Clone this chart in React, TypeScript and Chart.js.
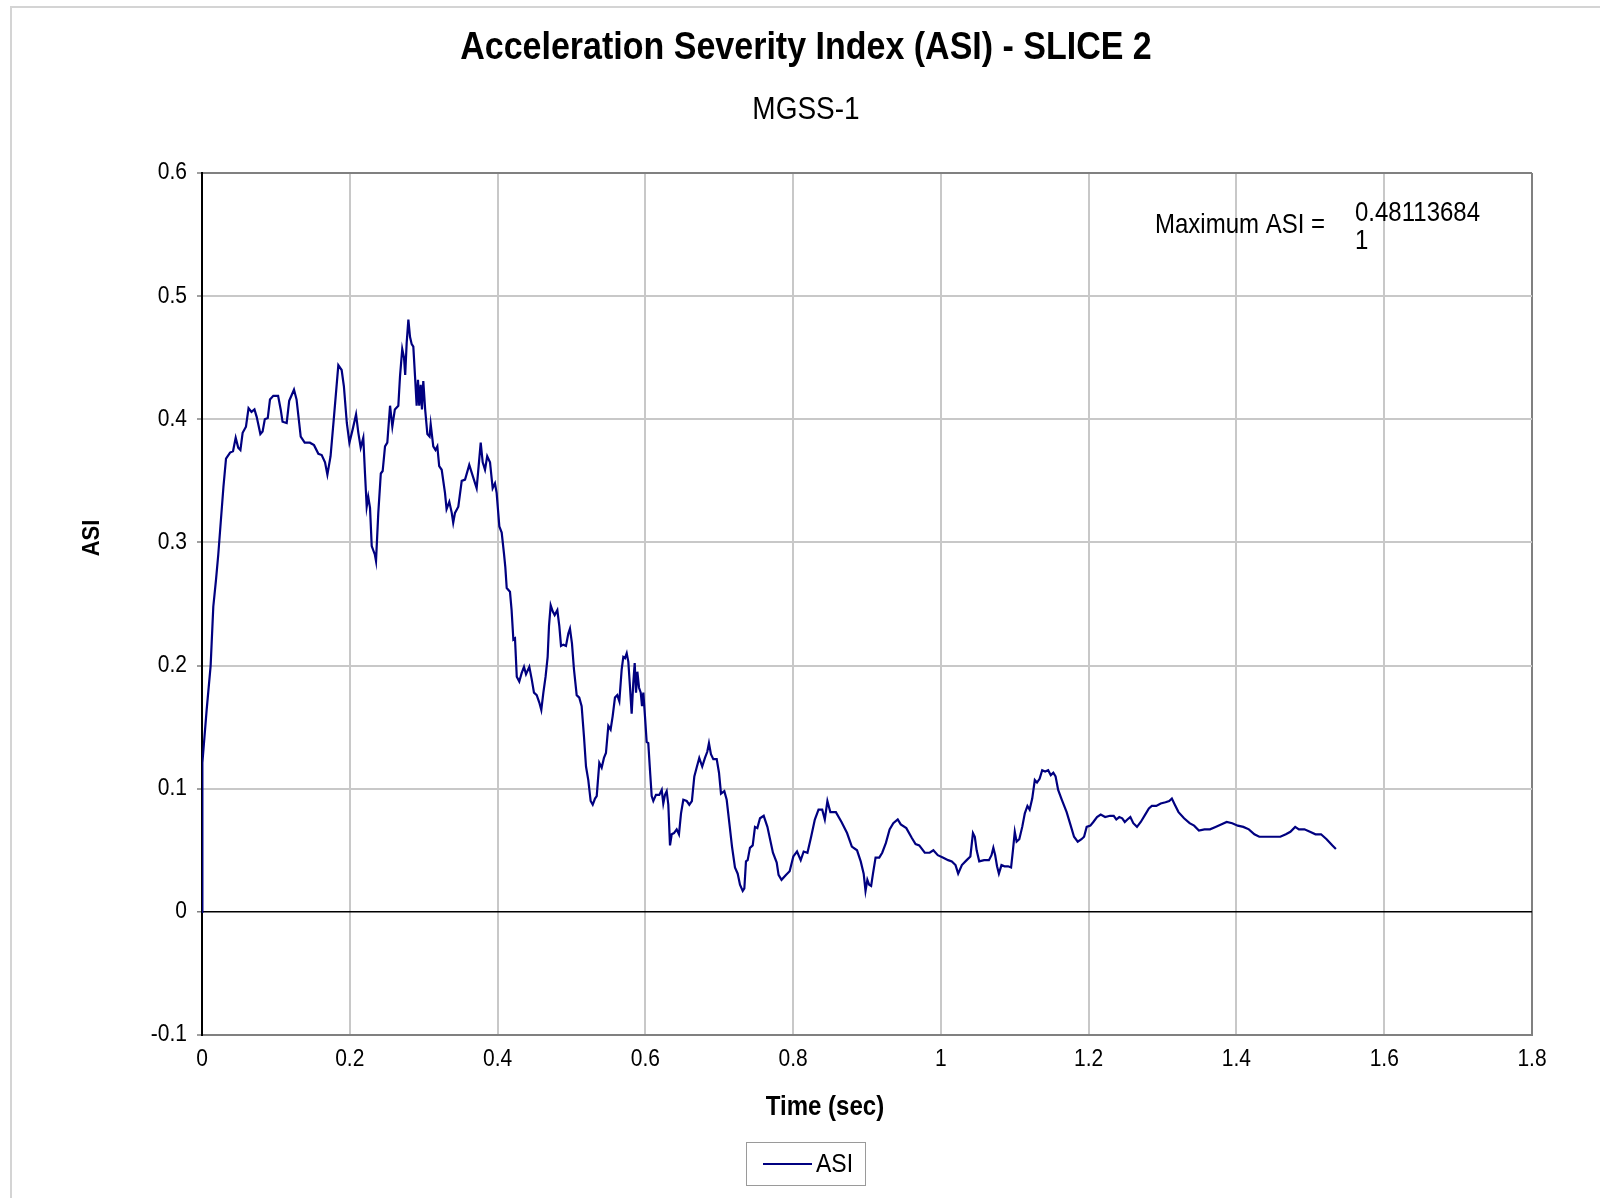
import React, { useEffect, useRef } from "react";
import { Chart, registerables } from "chart.js";

Chart.register(...registerables);

const TITLE = "Acceleration Severity Index (ASI) - SLICE 2";
const SUBTITLE = "MGSS-1";
const X_TITLE = "Time (sec)";
const Y_TITLE = "ASI";
const SERIES_LABEL = "ASI";
const MAX_LABEL = "Maximum ASI =";
const MAX_VALUE_LINES = ["0.48113684", "1"];

const X_MIN = 0;
const X_MAX = 1.8;
const X_STEP = 0.2;
const Y_MIN = -0.1;
const Y_MAX = 0.6;
const Y_STEP = 0.1;

const TIME = [
  0, 0.0005, 0.0063, 0.0117, 0.0153, 0.019, 0.022, 0.029, 0.0325, 0.038, 0.042, 0.0456, 0.049, 0.052, 0.055, 0.0595,
  0.063, 0.067, 0.071, 0.074, 0.079, 0.082, 0.085, 0.089, 0.092, 0.0965, 0.103, 0.1065, 0.109, 0.1146, 0.118, 0.1245,
  0.128, 0.1336, 0.139, 0.146, 0.1516, 0.1575, 0.162, 0.1665, 0.1697, 0.174, 0.1786, 0.1845, 0.189, 0.192, 0.196, 0.1995,
  0.204, 0.2085, 0.2116, 0.2148, 0.2183, 0.2206, 0.2229, 0.225, 0.2274, 0.2297, 0.234, 0.2355, 0.2386, 0.242, 0.2445, 0.2477,
  0.2508, 0.2545, 0.2576, 0.261, 0.2657, 0.268, 0.271, 0.2734, 0.275, 0.277, 0.2793, 0.2815, 0.2838, 0.286, 0.2883, 0.2905,
  0.2923, 0.294, 0.296, 0.2977, 0.2995, 0.302, 0.305, 0.308, 0.3095, 0.313, 0.316, 0.3185, 0.321, 0.3244, 0.3289, 0.331,
  0.3347, 0.338, 0.34, 0.3424, 0.3469, 0.3515, 0.356, 0.3617, 0.3664, 0.3717, 0.3744, 0.3772, 0.3799, 0.383, 0.386, 0.3898,
  0.3934, 0.3965, 0.3988, 0.4024, 0.4056, 0.4087, 0.4105, 0.4124, 0.4168, 0.419, 0.4214, 0.4236, 0.426, 0.4294, 0.4327, 0.4358,
  0.4385, 0.443, 0.4462, 0.4493, 0.453, 0.4565, 0.4592, 0.462, 0.465, 0.4678, 0.4696, 0.4719, 0.4746, 0.4773, 0.4809, 0.4836,
  0.4859, 0.489, 0.4926, 0.4958, 0.498, 0.5007, 0.5034, 0.5071, 0.5106, 0.5138, 0.517, 0.5197, 0.5228, 0.526, 0.5288, 0.5319,
  0.5342, 0.5377, 0.5409, 0.544, 0.5467, 0.5499, 0.553, 0.5558, 0.5589, 0.562, 0.5648, 0.568, 0.5702, 0.5725, 0.5748, 0.577,
  0.5792, 0.5815, 0.5837, 0.5856, 0.5874, 0.5892, 0.5915, 0.5938, 0.5955, 0.5973, 0.5995, 0.6018, 0.604, 0.6063, 0.6086, 0.6108,
  0.6144, 0.6189, 0.6222, 0.6243, 0.6266, 0.6289, 0.6311, 0.6334, 0.6357, 0.6388, 0.6424, 0.6455, 0.6483, 0.6514, 0.656, 0.6595,
  0.663, 0.6663, 0.6694, 0.673, 0.677, 0.6807, 0.6838, 0.6861, 0.6888, 0.692, 0.6966, 0.6997, 0.7024, 0.7069, 0.7101, 0.7137,
  0.7173, 0.7213, 0.725, 0.7281, 0.7318, 0.734, 0.7362, 0.7385, 0.7416, 0.7453, 0.7484, 0.7516, 0.7552, 0.7602, 0.7652, 0.7727,
  0.7778, 0.7803, 0.7843, 0.7903, 0.7953, 0.8003, 0.8053, 0.8103, 0.8143, 0.8194, 0.8244, 0.8294, 0.8344, 0.8394, 0.8429, 0.8464,
  0.8504, 0.8579, 0.8655, 0.873, 0.8795, 0.8865, 0.8915, 0.8955, 0.898, 0.9005, 0.903, 0.9056, 0.9081, 0.9116, 0.9166, 0.9206,
  0.9256, 0.9306, 0.9356, 0.9416, 0.9457, 0.9532, 0.9607, 0.9657, 0.9707, 0.9782, 0.9848, 0.9898, 0.9958, 1.0033, 1.0098, 1.0148,
  1.0198, 1.0234, 1.0284, 1.0349, 1.0399, 1.0434, 1.0459, 1.0484, 1.0519, 1.0585, 1.065, 1.0685, 1.071, 1.0735, 1.076, 1.0785,
  1.082, 1.086, 1.091, 1.095, 1.0975, 1.1, 1.1025, 1.1061, 1.1101, 1.1136, 1.1171, 1.1201, 1.1236, 1.1271, 1.1301, 1.1336,
  1.1371, 1.1411, 1.1452, 1.1487, 1.1522, 1.1552, 1.1587, 1.1637, 1.1702, 1.1752, 1.1802, 1.1852, 1.1903, 1.1938, 1.1973, 1.2023,
  1.2063, 1.2113, 1.2163, 1.2223, 1.2289, 1.2339, 1.2374, 1.2414, 1.2454, 1.2489, 1.2524, 1.2564, 1.2604, 1.2654, 1.2705, 1.2765,
  1.2815, 1.2855, 1.2915, 1.2975, 1.304, 1.309, 1.3126, 1.3166, 1.3216, 1.3291, 1.3366, 1.3427, 1.3492, 1.3567, 1.3642, 1.3717,
  1.3792, 1.3868, 1.3943, 1.4018, 1.4093, 1.4168, 1.4243, 1.4309, 1.4394, 1.4494, 1.4594, 1.4669, 1.473, 1.4795, 1.4845, 1.492,
  1.4995, 1.507, 1.5145, 1.522, 1.5296, 1.5346,
];

const ASI = [
  0, 0.121, 0.164, 0.2, 0.248, 0.27, 0.29, 0.345, 0.368, 0.373, 0.374, 0.385, 0.377, 0.375, 0.389, 0.394,
  0.409, 0.406, 0.408, 0.402, 0.388, 0.39, 0.4, 0.401, 0.416, 0.419, 0.419, 0.408, 0.398, 0.397, 0.415, 0.424,
  0.416, 0.386, 0.381, 0.381, 0.379, 0.372, 0.371, 0.365, 0.355, 0.37, 0.402, 0.444, 0.44, 0.427, 0.397, 0.381,
  0.392, 0.404, 0.389, 0.377, 0.385, 0.356, 0.329, 0.337, 0.328, 0.297, 0.29, 0.285, 0.324, 0.356, 0.358, 0.378,
  0.381, 0.411, 0.394, 0.408, 0.411, 0.435, 0.457, 0.45, 0.436, 0.462, 0.481, 0.467, 0.461, 0.459, 0.435, 0.411,
  0.432, 0.411, 0.428, 0.408, 0.431, 0.408, 0.388, 0.386, 0.396, 0.378, 0.375, 0.378, 0.362, 0.359, 0.34, 0.327,
  0.333, 0.324, 0.316, 0.324, 0.329, 0.35, 0.351, 0.363, 0.354, 0.344, 0.362, 0.381, 0.365, 0.359, 0.37, 0.365,
  0.344, 0.348, 0.34, 0.313, 0.308, 0.291, 0.28, 0.263, 0.26, 0.245, 0.221, 0.222, 0.191, 0.187, 0.194, 0.199,
  0.193, 0.199, 0.189, 0.178, 0.176, 0.17, 0.164, 0.178, 0.191, 0.207, 0.232, 0.249, 0.244, 0.241, 0.245, 0.232,
  0.216, 0.217, 0.216, 0.226, 0.23, 0.218, 0.197, 0.176, 0.174, 0.167, 0.142, 0.118, 0.107, 0.09, 0.087, 0.092,
  0.094, 0.121, 0.117, 0.125, 0.129, 0.151, 0.148, 0.159, 0.174, 0.176, 0.171, 0.197, 0.207, 0.206, 0.21, 0.203,
  0.183, 0.161, 0.186, 0.202, 0.178, 0.195, 0.182, 0.178, 0.167, 0.178, 0.159, 0.138, 0.137, 0.115, 0.094, 0.09,
  0.095, 0.095, 0.099, 0.088, 0.095, 0.098, 0.087, 0.054, 0.063, 0.064, 0.067, 0.063, 0.08, 0.091, 0.09, 0.087,
  0.09, 0.11, 0.117, 0.125, 0.118, 0.125, 0.13, 0.137, 0.128, 0.124, 0.124, 0.113, 0.096, 0.098, 0.091, 0.072,
  0.053, 0.036, 0.031, 0.022, 0.017, 0.019, 0.041, 0.042, 0.052, 0.054, 0.069, 0.068, 0.076, 0.078, 0.069, 0.048,
  0.04, 0.03, 0.026, 0.03, 0.033, 0.045, 0.049, 0.042, 0.049, 0.048, 0.061, 0.075, 0.083, 0.083, 0.075, 0.09,
  0.081, 0.081, 0.073, 0.064, 0.053, 0.05, 0.041, 0.031, 0.017, 0.026, 0.022, 0.021, 0.031, 0.044, 0.044, 0.048,
  0.056, 0.067, 0.072, 0.075, 0.071, 0.068, 0.06, 0.055, 0.054, 0.048, 0.048, 0.05, 0.046, 0.044, 0.042, 0.041,
  0.038, 0.031, 0.038, 0.042, 0.045, 0.064, 0.061, 0.05, 0.041, 0.042, 0.042, 0.046, 0.052, 0.046, 0.037, 0.031,
  0.038, 0.037, 0.037, 0.036, 0.05, 0.065, 0.057, 0.059, 0.069, 0.08, 0.086, 0.083, 0.092, 0.107, 0.105, 0.108,
  0.115, 0.114, 0.115, 0.111, 0.113, 0.11, 0.099, 0.091, 0.081, 0.071, 0.061, 0.057, 0.059, 0.061, 0.069, 0.07,
  0.073, 0.077, 0.079, 0.077, 0.078, 0.078, 0.075, 0.077, 0.076, 0.073, 0.075, 0.077, 0.072, 0.069, 0.073, 0.079,
  0.084, 0.086, 0.086, 0.088, 0.089, 0.09, 0.092, 0.087, 0.081, 0.076, 0.072, 0.07, 0.066, 0.067, 0.067, 0.069,
  0.071, 0.073, 0.072, 0.07, 0.069, 0.067, 0.063, 0.061, 0.061, 0.061, 0.061, 0.063, 0.065, 0.069, 0.067, 0.067,
  0.065, 0.063, 0.063, 0.059, 0.054, 0.051,
];

const FONT = "'Liberation Sans', Arial, Helvetica, sans-serif";
const LINE_COLOR = "#000080";
const GRID_COLOR = "#c8c8c8";
const FRAME_COLOR = "#808080";
const TEXT_STRETCH = 1.12;

const near = (a: number, b: number) => Math.abs(a - b) < 1e-6;
const fmt = (v: number | string) => String(Math.round(Number(v) * 10) / 10);

const decorPlugin = {
  id: "decor",
  afterDraw(chart: any) {
    const ctx: CanvasRenderingContext2D = chart.ctx;
    ctx.save();
    // outer frame
    ctx.strokeStyle = "#d4d4d4";
    ctx.lineWidth = 2;
    ctx.beginPath();
    ctx.moveTo(11, 1198);
    ctx.lineTo(11, 7);
    ctx.lineTo(1600, 7);
    ctx.stroke();

    ctx.fillStyle = "#000";
    ctx.textBaseline = "middle";

    // axis titles
    ctx.font = `bold 24px ${FONT}`;
    ctx.textAlign = "center";
    ctx.fillText(X_TITLE, 825, 1108);
    ctx.save();
    ctx.translate(92, 538);
    ctx.rotate(-Math.PI / 2);
    ctx.font = `bold 22px ${FONT}`;
    ctx.fillText(Y_TITLE, 0, 0);
    ctx.restore();

    // max annotation
    ctx.font = `24px ${FONT}`;
    ctx.textAlign = "left";
    ctx.fillText(MAX_LABEL, 1155, 226);
    ctx.fillText(MAX_VALUE_LINES[0], 1355, 214);
    ctx.fillText(MAX_VALUE_LINES[1], 1355, 242);

    // legend
    ctx.strokeStyle = "#9a9a9a";
    ctx.lineWidth = 1;
    ctx.strokeRect(746.5, 1142.5, 119, 43);
    ctx.strokeStyle = LINE_COLOR;
    ctx.lineWidth = 2;
    ctx.beginPath();
    ctx.moveTo(763, 1164);
    ctx.lineTo(812, 1164);
    ctx.stroke();
    ctx.font = `23px ${FONT}`;
    ctx.fillText(SERIES_LABEL, 816, 1165);
    ctx.restore();
  },
};

export default function App() {
  const ref = useRef<HTMLCanvasElement | null>(null);

  useEffect(() => {
    const canvas = ref.current;
    if (!canvas) return;
    const c2d = canvas.getContext("2d") as any;
    // Slightly taller glyphs, like the reference's text rendering
    const origFill = c2d.fillText.bind(c2d);
    c2d.fillText = (text: string, x: number, y: number, maxWidth?: number) => {
      c2d.save();
      c2d.translate(x, y);
      c2d.scale(1, TEXT_STRETCH);
      if (maxWidth === undefined) origFill(text, 0, 0);
      else origFill(text, 0, 0, maxWidth);
      c2d.restore();
    };

    Chart.defaults.font.family = FONT;
    Chart.defaults.color = "#000";
    const points = TIME.map((t, i) => ({ x: t, y: ASI[i] }));
    const chart = new Chart(canvas, {
      type: "line",
      data: {
        datasets: [
          {
            label: SERIES_LABEL,
            data: points,
            borderColor: LINE_COLOR,
            backgroundColor: LINE_COLOR,
            borderWidth: 2.2,
            pointRadius: 0,
            tension: 0,
            fill: false,
          },
        ],
      },
      options: {
        responsive: false,
        animation: false,
        events: [],
        layout: { padding: { top: 8, left: 80, right: 68, bottom: 0 } },
        plugins: {
          legend: { display: false },
          tooltip: { enabled: false },
          title: {
            display: true,
            text: TITLE,
            color: "#000",
            font: { size: 34, weight: "bold", family: FONT, lineHeight: 1.2 },
            padding: { top: 19.6, bottom: 0 },
          },
          subtitle: {
            display: true,
            text: SUBTITLE,
            color: "#000",
            font: { size: 28, weight: "normal", family: FONT, lineHeight: 1.2 },
            padding: { top: 25.2, bottom: 45.8 },
          },
        },
        scales: {
          x: {
            type: "linear",
            min: X_MIN,
            max: X_MAX,
            ticks: {
              stepSize: X_STEP,
              color: "#000",
              font: { size: 21, family: FONT },
              padding: 12,
              maxRotation: 0,
              autoSkip: false,
              callback: (v: any) => fmt(v),
            },
            grid: {
              drawTicks: false,
              color: (c: any) => {
                const v = c.tick ? c.tick.value : NaN;
                if (near(v, 0)) return "#000";
                if (near(v, X_MAX)) return FRAME_COLOR;
                return GRID_COLOR;
              },
              lineWidth: 2,
            },
            border: { display: true, color: FRAME_COLOR, width: 2 },
            afterFit: (s: any) => {
              s.height = 163;
            },
          },
          y: {
            type: "linear",
            min: Y_MIN,
            max: Y_MAX,
            ticks: {
              stepSize: Y_STEP,
              color: "#000",
              font: { size: 21, family: FONT },
              padding: 10,
              callback: (v: any) => fmt(v),
            },
            grid: {
              drawTicks: true,
              tickLength: 5,
              tickColor: FRAME_COLOR,
              tickWidth: 1.5,
              color: (c: any) => {
                const v = c.tick ? c.tick.value : NaN;
                if (near(v, 0)) return "#000";
                if (near(v, Y_MAX) || near(v, Y_MIN)) return FRAME_COLOR;
                return GRID_COLOR;
              },
              lineWidth: (c: any) => {
                const v = c.tick ? c.tick.value : NaN;
                if (near(v, 0)) return 1.5;
                return 2;
              },
            },
            border: { display: true, color: "#000", width: 2 },
            afterFit: (s: any) => {
              s.width = 122;
            },
          },
        },
      },
      plugins: [decorPlugin],
    } as any);
    return () => {
      chart.destroy();
      c2d.fillText = origFill;
    };
  }, []);

  return (
    <div style={{ position: "absolute", left: 0, top: 0, width: 1600, height: 1198, background: "#fff" }}>
      <canvas ref={ref} width={1600} height={1198} style={{ display: "block" }} />
    </div>
  );
}
